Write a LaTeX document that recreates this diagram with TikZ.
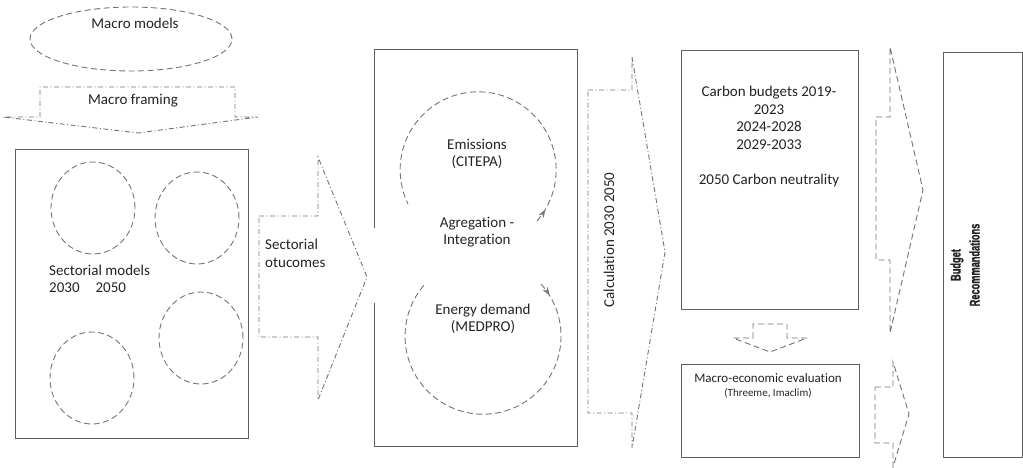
\documentclass[tikz,border=0pt]{standalone}
\usepackage{fontspec}
\setmainfont{Carlito}[Ligatures=NoCommon]
\newfontfamily\narrowbold[FakeStretch=0.66,FakeBold=1.2]{Liberation Sans Bold}
\usepackage{tikz}
\usetikzlibrary{arrows.meta,shapes.geometric,decorations.markings}
\definecolor{framegray}{RGB}{95,95,95}
\definecolor{dashgray}{RGB}{115,115,115}
\definecolor{textgray}{RGB}{35,35,35}

\tikzset{
  box/.style={rectangle, draw=framegray, line width=1pt, inner sep=0pt},
  dashline/.style={draw=dashgray, line width=0.9pt, dash pattern=on 6pt off 3.5pt},
  dotdash/.style={draw=dashgray, line width=0.9pt, dash pattern=on 5pt off 2.5pt on 1pt off 2.5pt},
  lbl/.style={font=\fontsize{15}{17.5}\selectfont, text=textgray, inner sep=0pt},
  loopmark/.style={postaction={decorate}, decoration={markings,
      mark=at position 14pt with {\arrow[dashgray]{Stealth[length=8pt,width=6pt]}}}}
}

\begin{document}
\begin{tikzpicture}[x=1pt, y=-1pt, >=Stealth]
        \useasboundingbox (0,0) rectangle (1023,468);

        % Macro models and framing (top left)
        \node[ellipse, dashline, minimum width=202pt, minimum height=64pt] (macromod) at (131,39) {};
        \node[lbl] (macrotxt) at (135,23) {Macro models};
        \draw[dotdash] (40,117) -- (40,87) -- (235,87) -- (235,117) -- (258,117) -- (138,133) -- (3,117) -- cycle;
        \node[lbl] (frametxt) at (133,101) {Macro framing};

        % Sectorial models
        \node[box, minimum width=233pt, minimum height=288pt] (sectbox) at (131.5,294) {};
        \node[ellipse, dashline, minimum width=84pt, minimum height=92pt] (sm1) at (93,208) {};
        \node[ellipse, dashline, minimum width=84pt, minimum height=92pt] (sm2) at (197,218) {};
        \node[ellipse, dashline, minimum width=84pt, minimum height=92pt] (sm3) at (201,338) {};
        \node[ellipse, dashline, minimum width=84pt, minimum height=92pt] (sm4) at (92,378) {};
        \node[lbl, align=left, anchor=west] (secttxt) at (49,279) {Sectorial models\\2030\hspace{16pt}2050};

        % Sectorial outcomes arrow
        \draw[dotdash] (259,216) -- (318,216) -- (318,157) -- (367,277) -- (318,400) -- (318,337) -- (259,337) -- cycle;
        \node[lbl, align=left, anchor=west] (outtxt) at (265,253.5) {Sectorial\\otucomes};

        % Aggregation box with the two loops
        \draw[framegray, line width=1pt] (374,228) -- (374,50) -- (577,50) -- (577,446) -- (374,446) -- (374,303);
        \draw[dashline, loopmark] (537,221) arc[start angle=41, end angle=-206, radius=78];
        \draw[dashline, loopmark] (541,284) arc[start angle=-42, end angle=222, radius=78];
        \node[lbl, align=center] (emis) at (477,154) {Emissions\\(CITEPA)};
        \node[lbl, align=center] (agreg) at (477,232) {Agregation -\\Integration};
        \node[lbl, align=center] (energy) at (483,319) {Energy demand\\(MEDPRO)};

        % Calculation arrow
        \draw[dotdash] (588,90) -- (632,90) -- (632,57) -- (665,252) -- (632,448) -- (632,413) -- (588,413) -- cycle;
        \node[lbl, rotate=90] (calctxt) at (609,240) {Calculation 2030 2050};

        % Carbon budgets and evaluation
        \node[box, minimum width=177pt, minimum height=258pt] (carbon) at (769.5,180) {};
        \node[lbl, align=center, anchor=north] (carbtxt) at (769,86)
            {Carbon budgets 2019-\\2023\\2024-2028\\2029-2033\\[17.5pt]2050 Carbon neutrality};
        \draw[dashline] (753,338) -- (753,324) -- (787,324) -- (787,338) -- (807,338) -- (770,352) -- (733,338) -- cycle;
        \node[box, minimum width=178pt, minimum height=93pt] (macroeco) at (770,410.5) {};
        \node[lbl, font=\fontsize{13}{15}\selectfont] (evaltxt) at (768,378) {Macro-economic evaluation};
        \node[lbl, font=\fontsize{11}{13}\selectfont] (modeltxt) at (768,393) {(Threeme, Imaclim)};

        % Arrows to the recommendations
        \draw[dashline] (876,117) -- (890,117) -- (890,47) -- (923,190) -- (890,333) -- (890,260) -- (876,260) -- cycle;
        \draw[dashline] (875,387) -- (893,387) -- (893,362) -- (909,414) -- (893,467) -- (893,443) -- (875,443) -- cycle;

        % Budget recommandations
        \node[rotate=90, align=center, text=textgray, inner sep=0pt, font=\narrowbold\fontsize{14}{19}\selectfont] (budgtxt) at (965,265) {Budget\\Recommandations};
        \node[box, minimum width=79pt, minimum height=404pt] (budget) at (982.5,255) {};

    \end{tikzpicture}
\end{document}
